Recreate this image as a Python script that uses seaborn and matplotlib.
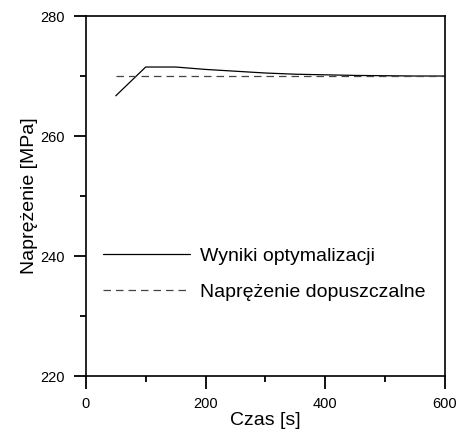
import numpy as np
import pandas as pd
import matplotlib
matplotlib.use("Agg")
import matplotlib.pyplot as plt
from matplotlib.ticker import MultipleLocator
import seaborn as sns

# data
czas = [50, 100, 150, 200, 250, 300, 350, 400, 450, 500, 550, 600]
wyniki = [266.7, 271.5, 271.5, 271.1, 270.8, 270.5, 270.3, 270.2, 270.1, 270.05, 270.0, 270.0]
dop_czas = [50, 600]
dop_val = [270, 270]

sns.set_style("ticks")
plt.rcParams['font.family'] = ['Liberation Sans', 'DejaVu Sans']
plt.rcParams['text.color'] = 'black'
plt.rcParams['axes.labelcolor'] = 'black'
plt.rcParams['xtick.color'] = 'black'
plt.rcParams['ytick.color'] = 'black'

df1 = pd.DataFrame({"czas": czas, "val": wyniki})
df2 = pd.DataFrame({"czas": dop_czas, "val": dop_val})

fig = plt.figure(figsize=(4.59, 4.33), dpi=100)
ax = fig.add_axes([0.187, 0.1316, 0.7825, 0.8314])

sns.lineplot(data=df1, x="czas", y="val", ax=ax, color="black", lw=0.9,
             label="Wyniki optymalizacji")
sns.lineplot(data=df2, x="czas", y="val", ax=ax, color="#444444", lw=0.9,
             dashes=False, label="Naprężenie dopuszczalne")
ax.lines[1].set_dashes([6, 4])

ax.set_xlim(0, 600)
ax.set_ylim(220, 280)
ax.xaxis.set_major_locator(MultipleLocator(200))
ax.xaxis.set_minor_locator(MultipleLocator(100))
ax.yaxis.set_major_locator(MultipleLocator(20))
ax.yaxis.set_minor_locator(MultipleLocator(10))
ax.tick_params(which="major", length=9, width=1.3, labelsize=10.5)
ax.tick_params(which="minor", length=4.5, width=1.3)
ax.tick_params(axis="both", which="major", pad=6)
for s in ax.spines.values():
    s.set_linewidth(1.2)
    s.set_color("black")

ax.set_xlabel("Czas [s]", fontsize=14, labelpad=1)
ax.set_ylabel("Naprężenie [MPa]", fontsize=14, labelpad=2)

ax.legend(loc="upper left", bbox_to_anchor=(0.015, 0.39), frameon=False,
          fontsize=14, handlelength=4.5, handletextpad=0.5, labelspacing=0.95,
          borderaxespad=0.2)

fig.savefig("out.png", dpi=100)
